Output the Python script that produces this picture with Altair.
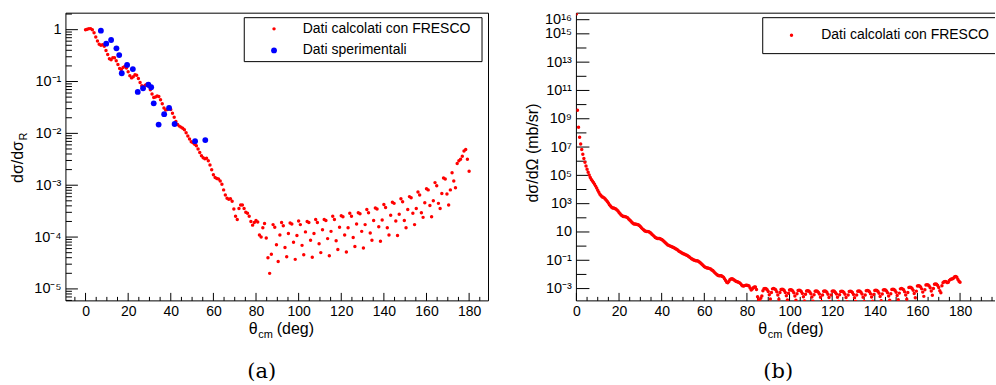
import altair as alt
import pandas as pd

# ---------------- data ----------------
# panel (a): ratio to Rutherford, FRESCO, 0.8 degree step, log10 values
theta_calc_a = [round(0.8 * k, 1) for k in range(0, 226)]
ratio_calc_a_log10 = [
    # 0.0 - 7.2
    0.00, 0.01, 0.02, 0.02, 0.00, -0.06, -0.14, -0.22, -0.28, -0.30,
    # 8.0 - 15.2
    -0.29, -0.32, -0.40, -0.48, -0.56, -0.58, -0.54, -0.54, -0.60, -0.67,
    # 16.0 - 23.2
    -0.75, -0.77, -0.73, -0.71, -0.74, -0.81, -0.89, -0.93, -0.91, -0.87,
    # 24.0 - 31.2
    -0.88, -0.94, -1.02, -1.08, -1.10, -1.07, -1.05, -1.09, -1.16, -1.24,
    # 32.0 - 39.2
    -1.31, -1.30, -1.28, -1.29, -1.35, -1.43, -1.51, -1.55, -1.54, -1.52,
    # 40.0 - 47.2
    -1.54, -1.61, -1.69, -1.77, -1.83, -1.86, -1.88, -1.90, -1.93, -1.99,
    # 48.0 - 55.2
    -2.05, -2.11, -2.16, -2.18, -2.21, -2.24, -2.30, -2.37, -2.43, -2.47,
    # 56.0 - 63.2
    -2.49, -2.48, -2.53, -2.61, -2.70, -2.80, -2.85, -2.87, -2.88, -2.92,
    # 64.0 - 71.2
    -2.98, -3.09, -3.19, -3.25, -3.27, -3.26, -3.31, -3.46, -3.60, -3.66,
    # 72.0 - 79.2
    -3.45, -3.38, -3.38, -3.45, -3.52, -3.54, -3.60, -3.70, -3.77, -3.72,
    # 80.0 - 87.2
    -3.68, -3.71, -3.96, -4.00, -3.82, -3.74, -4.02, -4.40, -4.70, -4.33,
    # 88.0 - 171.2 (five points per ~4 degree oscillation)
    -3.76, -3.81, -4.15, -4.47, -3.96,
    -3.72, -3.78, -4.20, -4.38, -3.93,
    -3.73, -3.75, -4.10, -4.43, -3.97,
    -3.69, -3.76, -4.16, -4.34, -3.90,
    -3.70, -3.72, -4.06, -4.39, -3.93,
    -3.66, -3.72, -4.13, -4.30, -3.86,
    -3.66, -3.68, -4.03, -4.36, -3.89,
    -3.60, -3.66, -4.07, -4.24, -3.81,
    -3.59, -3.61, -3.96, -4.29, -3.82,
    -3.54, -3.60, -4.01, -4.18, -3.75,
    -3.53, -3.55, -3.89, -4.21, -3.76,
    -3.47, -3.53, -3.92, -4.06, -3.68,
    -3.44, -3.46, -3.80, -4.08, -3.67,
    -3.37, -3.43, -3.82, -3.96, -3.58,
    -3.33, -3.35, -3.69, -3.97, -3.56,
    -3.26, -3.32, -3.68, -3.82, -3.47,
    -3.22, -3.24, -3.54, -3.76, -3.45,
    -3.13, -3.19, -3.53, -3.62, -3.34,
    -3.07, -3.09, -3.39, -3.61, -3.30,
    -2.95, -3.01, -3.35, -3.45, -3.16,
    -2.86, -2.88, -3.17, -3.38, -3.09,
    # 172.0 - 180.0
    -2.76, -2.92, -3.05, -2.58, -2.53, -2.50, -2.44, -2.34, -2.31, -2.50, -2.73,
]

# panel (a): experimental points
theta_exp = [7.2, 9.7, 12.0, 14.5, 15.8, 17.0, 19.5, 22.2, 24.5, 27.0,
             29.5, 30.8, 32.0, 34.3, 36.9, 39.2, 41.8, 51.4, 56.2]
ratio_exp_log10 = [-0.02, -0.27, -0.20, -0.36, -0.49, -0.84, -0.68, -0.76, -1.20, -1.13,
                   -1.06, -1.11, -1.42, -1.83, -1.63, -1.51, -1.82, -2.15, -2.13]

# panel (b): d sigma / d Omega (mb/sr), FRESCO, 0.5 degree step, log10 values
theta_calc_b = [i / 2 for i in range(0, 361)]
sigma_calc_b_log10 = [
    16.41, 9.60, 8.40, 7.70, 7.21, 6.82, 6.49, 6.19, 5.92, 5.66,
    5.43, 5.22, 5.02, 4.85, 4.71, 4.60, 4.49, 4.37, 4.24, 4.10,
    3.95, 3.80, 3.67, 3.58, 3.49, 3.45, 3.41, 3.33, 3.25, 3.15,
    3.04, 2.93, 2.83, 2.75, 2.70, 2.69, 2.66, 2.62, 2.56, 2.48,
    2.38, 2.29, 2.20, 2.14, 2.09, 2.09, 2.08, 2.05, 2.00, 1.92,
    1.85, 1.77, 1.68, 1.62, 1.57, 1.56, 1.55, 1.53, 1.51, 1.45,
    1.38, 1.30, 1.22, 1.15, 1.08, 1.05, 1.04, 1.03, 1.02, 0.96,
    0.91, 0.83, 0.76, 0.69, 0.61, 0.57, 0.54, 0.54, 0.54, 0.51,
    0.47, 0.41, 0.34, 0.27, 0.20, 0.13, 0.07, 0.04, 0.00, -0.03,
    -0.06, -0.09, -0.13, -0.18, -0.22, -0.28, -0.34, -0.39, -0.44, -0.49,
    -0.52, -0.56, -0.59, -0.62, -0.66, -0.71, -0.77, -0.83, -0.89, -0.93,
    -0.98, -1.00, -1.03, -1.04, -1.05, -1.10, -1.15, -1.23, -1.30, -1.37,
    -1.45, -1.49, -1.53, -1.55, -1.57, -1.59, -1.62, -1.68, -1.73, -1.81,
    -1.89, -1.96, -2.03, -2.07, -2.09, -2.10, -2.10, -2.14, -2.19, -2.30,
    -2.43, -2.55, -2.59, -2.50, -2.38, -2.33, -2.31, -2.34, -2.39, -2.45,
    -2.50, -2.52, -2.55, -2.59, -2.65, -2.74, -2.81, -2.82, -2.79, -2.77,
    -2.76, -2.78, -2.82, -2.96, -3.10, -3.03, -2.94, -2.89, -2.89, -3.06,
    -3.57, -3.78, -3.89, -3.69, -3.53, -3.16,
    -3.01, -2.99, -3.01, -3.08, -3.21, -3.44, -3.74, -3.27,
    -3.02, -3.00, -3.02, -3.09, -3.22, -3.45, -3.75, -3.28,
    -3.07, -3.05, -3.07, -3.14, -3.27, -3.50, -3.80, -3.33,
    -3.10, -3.08, -3.10, -3.17, -3.30, -3.53, -3.83, -3.36,
    -3.14, -3.12, -3.14, -3.21, -3.34, -3.57, -3.87, -3.40,
    -3.17, -3.15, -3.17, -3.24, -3.37, -3.60, -3.90, -3.43,
    -3.19, -3.17, -3.19, -3.26, -3.39, -3.62, -3.92, -3.45,
    -3.19, -3.17, -3.19, -3.26, -3.40, -3.63, -3.93, -3.45,
    -3.19, -3.17, -3.19, -3.27, -3.39, -3.62, -3.91, -3.44,
    -3.20, -3.18, -3.20, -3.27, -3.40, -3.63, -3.93, -3.46,
    -3.20, -3.18, -3.20, -3.27, -3.41, -3.64, -3.92, -3.46,
    -3.19, -3.17, -3.19, -3.26, -3.39, -3.62, -3.92, -3.45,
    -3.16, -3.14, -3.16, -3.23, -3.36, -3.59, -3.89, -3.42,
    -3.13, -3.11, -3.13, -3.20, -3.33, -3.56, -3.86, -3.39,
    -3.10, -3.08, -3.10, -3.17, -3.30, -3.53, -3.83, -3.36,
    -3.06, -3.04, -3.06, -3.13, -3.26, -3.49, -3.79, -3.32,
    -3.02, -3.00, -3.02, -3.09, -3.22, -3.45, -3.75, -3.28,
    -2.92, -2.90, -2.92, -2.99, -3.12, -3.35, -3.65, -3.18,
    -2.82, -2.80, -2.82, -2.89, -3.02, -3.25, -3.55, -3.08,
    -2.74, -2.72, -2.74, -2.81, -2.94, -3.17, -3.47, -3.00,
    -2.70, -2.68, -2.70, -2.78, -2.92, -3.15, -3.30, -2.80,
    -2.58, -2.52, -2.50, -2.52, -2.58, -2.55, -2.42, -2.35,
    -2.32, -2.30, -2.25, -2.17, -2.14, -2.20, -2.35, -2.48, -2.55,
]

legend_a = ["Dati calcolati con FRESCO", "Dati sperimentali"]
legend_b = ["Dati calcolati con FRESCO"]

# axis ticks / labels
x_major_a = [0, 20, 40, 60, 80, 100, 120, 140, 160, 180]
x_minor_a = [t for t in range(-5, 190, 5) if t % 20 != 0]
x_major_b = [0, 20, 40, 60, 80, 100, 120, 140, 160, 180]
x_minor_b = [t for t in range(5, 200, 5) if t % 20 != 0]

y_exp_a = [-5, -4, -3, -2, -1, 0]
y_labels_a = {0: "1", -1: "10⁻¹", -2: "10⁻²", -3: "10⁻³", -4: "10⁻⁴", -5: "10⁻⁵"}
y_minor_a = [m * 10.0 ** e for e in range(-6, 1) for m in range(2, 10)]

y_exp_b = list(range(-3, 17))
y_labels_b = {16: "10¹⁶", 15: "10¹⁵", 13: "10¹³", 11: "10¹¹", 9: "10⁹", 7: "10⁷",
              5: "10⁵", 3: "10³", 1: "10", -1: "10⁻¹", -3: "10⁻³"}

# ---------------- styling ----------------
FONT = "Liberation Sans"
SERIF = "DejaVu Serif"
H = 288
W_A = 423
W_B = 419
DOT = 12

xs_a = alt.Scale(domain=[-9.2, 189.1], nice=False, zero=False)
ys_a = alt.Scale(type="log", domain=[10 ** -5.231, 10 ** 0.318], nice=False)
xs_b = alt.Scale(domain=[0, 196.4], nice=False, zero=False)
ys_b = alt.Scale(type="log", domain=[10 ** -3.87, 10 ** 16.46], nice=False)

ONE = pd.DataFrame({"k": [0]})


def label_expr(mapping):
    parts = [f"(round(log(datum.value)/LN10) == {e}) ? '{s}'" for e, s in mapping.items()]
    return " : ".join(parts) + " : ''"


def txt(text, x, y, size=16, align="left", baseline="alphabetic", angle=0, font=FONT):
    return alt.Chart(ONE).mark_text(
        text=text, align=align, baseline=baseline, angle=angle,
        font=font, fontSize=size, color="black"
    ).encode(x=alt.value(x), y=alt.value(y))


def xaxis(values):
    return alt.Axis(values=values, format="d", ticks=False, domain=False, grid=False,
                    title=None, labelFont=FONT, labelFontSize=14, labelColor="black",
                    labelPadding=4, labelFlush=False, labelOverlap=False)


def yaxis(values, mapping):
    return alt.Axis(values=values, labelExpr=label_expr(mapping), ticks=False,
                    domain=False, grid=False, title=None, labelFont=FONT,
                    labelFontSize=14.5, labelColor="black", labelPadding=5,
                    labelFlush=False, labelOverlap=False)


# ---------------- panel (a) ----------------
df_a = pd.DataFrame({"theta": theta_calc_a,
                     "ratio": [10 ** v for v in ratio_calc_a_log10]})
df_exp = pd.DataFrame({"theta": theta_exp,
                       "ratio": [10 ** v for v in ratio_exp_log10]})

anchor = alt.Chart(ONE).mark_rule(strokeOpacity=0).encode(
    x=alt.value(-65), x2=alt.value(-65), y=alt.value(-12), y2=alt.value(-12))

frame_a = alt.Chart(ONE).mark_rect(fillOpacity=0, stroke="black", strokeWidth=1).encode(
    x=alt.value(0), x2=alt.value(W_A), y=alt.value(0), y2=alt.value(H))

xt_major_a = alt.Chart(pd.DataFrame({"t": x_major_a})).mark_rule(color="black").encode(
    x=alt.X("t:Q", scale=xs_a, axis=None), y=alt.value(H), y2=alt.value(H - 8))
xt_minor_a = alt.Chart(pd.DataFrame({"t": x_minor_a})).mark_rule(color="black").encode(
    x=alt.X("t:Q", scale=xs_a, axis=None), y=alt.value(H), y2=alt.value(H - 4))
yt_major_a = alt.Chart(pd.DataFrame({"t": [10.0 ** e for e in y_exp_a]})).mark_rule(color="black").encode(
    y=alt.Y("t:Q", scale=ys_a, axis=None), x=alt.value(0), x2=alt.value(12))
yt_minor_a = alt.Chart(pd.DataFrame({"t": y_minor_a})).transform_filter(
    "datum.t > 5.9e-6 && datum.t < 2.05").mark_rule(color="black").encode(
    y=alt.Y("t:Q", scale=ys_a, axis=None), x=alt.value(0), x2=alt.value(6))

pts_a = alt.Chart(df_a).mark_circle(size=DOT, color="#ff0000", opacity=1).encode(
    x=alt.X("theta:Q", scale=xs_a, axis=xaxis(x_major_a)),
    y=alt.Y("ratio:Q", scale=ys_a, axis=yaxis([10.0 ** e for e in y_exp_a], y_labels_a)))
pts_exp = alt.Chart(df_exp).mark_circle(size=34, color="#0000ff", opacity=1).encode(
    x=alt.X("theta:Q", scale=xs_a, axis=None),
    y=alt.Y("ratio:Q", scale=ys_a, axis=None))

leg_box_a = alt.Chart(ONE).mark_rect(fill="white", stroke="black", strokeWidth=1).encode(
    x=alt.value(178.5), x2=alt.value(416.5), y=alt.value(4.5), y2=alt.value(48.5))
leg_m1_a = alt.Chart(ONE).mark_circle(size=DOT, color="#ff0000", opacity=1).encode(
    x=alt.value(208.3), y=alt.value(15.7))
leg_m2_a = alt.Chart(ONE).mark_circle(size=34, color="#0000ff", opacity=1).encode(
    x=alt.value(208.3), y=alt.value(37.3))
leg_t1_a = txt(legend_a[0], 237, 15.7, size=14, baseline="middle")
leg_t2_a = txt(legend_a[1], 237, 37.3, size=14, baseline="middle")

xt1_a = txt("θ", 192, 321, size=16, align="right")
xt2_a = txt("cm", 192.5, 325, size=11)
xt3_a = txt("(deg)", 211, 321, size=16)
yt1_a = txt("dσ/dσ", -43, 128, size=16, align="right", angle=270)
yt2_a = txt("R", -39, 127.5, size=11, align="left", angle=270)
cap_a = txt("(a)", 196, 365, size=21, align="center", font=SERIF)

panel_a = alt.layer(
    anchor, frame_a, xt_major_a, xt_minor_a, yt_major_a, yt_minor_a,
    pts_a, pts_exp, leg_box_a, leg_m1_a, leg_m2_a, leg_t1_a, leg_t2_a,
    xt1_a, xt2_a, xt3_a, yt1_a, yt2_a, cap_a,
).resolve_axis(x="independent", y="independent").properties(width=W_A, height=H)

# ---------------- panel (b) ----------------
df_b = pd.DataFrame({"theta": theta_calc_b,
                     "sigma": [10 ** v for v in sigma_calc_b_log10]})

frame_b = alt.layer(
    alt.Chart(ONE).mark_rule(color="black").encode(x=alt.value(0), y=alt.value(0), y2=alt.value(H)),
    alt.Chart(ONE).mark_rule(color="black").encode(x=alt.value(0), x2=alt.value(W_B), y=alt.value(0)),
    alt.Chart(ONE).mark_rule(color="black").encode(x=alt.value(0), x2=alt.value(W_B), y=alt.value(H)),
)

xt_major_b = alt.Chart(pd.DataFrame({"t": x_major_b})).mark_rule(color="black").encode(
    x=alt.X("t:Q", scale=xs_b, axis=None), y=alt.value(H), y2=alt.value(H - 8))
xt_minor_b = alt.Chart(pd.DataFrame({"t": x_minor_b})).mark_rule(color="black").encode(
    x=alt.X("t:Q", scale=xs_b, axis=None), y=alt.value(H), y2=alt.value(H - 4))
yt_long_b = alt.Chart(pd.DataFrame({"t": [10.0 ** e for e in y_exp_b if e in y_labels_b]})).mark_rule(
    color="black").encode(y=alt.Y("t:Q", scale=ys_b, axis=None), x=alt.value(0), x2=alt.value(13))
yt_short_b = alt.Chart(pd.DataFrame({"t": [10.0 ** e for e in y_exp_b if e not in y_labels_b]})).mark_rule(
    color="black").encode(y=alt.Y("t:Q", scale=ys_b, axis=None), x=alt.value(0), x2=alt.value(10))

pts_b = alt.Chart(df_b).mark_circle(size=DOT, color="#ff0000", opacity=1, clip=True).encode(
    x=alt.X("theta:Q", scale=xs_b, axis=xaxis(x_major_b)),
    y=alt.Y("sigma:Q", scale=ys_b,
            axis=yaxis([10.0 ** e for e in y_labels_b], y_labels_b)))

leg_box_b = alt.Chart(ONE).mark_rect(fill="white", stroke="black", strokeWidth=1, clip=True).encode(
    x=alt.value(186.5), x2=alt.value(440), y=alt.value(4.5), y2=alt.value(40.5))
leg_m1_b = alt.Chart(ONE).mark_circle(size=DOT, color="#ff0000", opacity=1).encode(
    x=alt.value(215.3), y=alt.value(22))
leg_t1_b = txt(legend_b[0], 245, 22, size=14, baseline="middle")

xt1_b = txt("θ", 191, 321, size=16, align="right")
xt2_b = txt("cm", 191.5, 325, size=11)
xt3_b = txt("(deg)", 210, 321, size=16)
yt_b = txt("dσ/dΩ (mb/sr)", -38, 140, size=16, align="center", angle=270)
cap_b = txt("(b)", 202, 365, size=21, align="center", font=SERIF)

panel_b = alt.layer(
    frame_b, xt_major_b, xt_minor_b, yt_long_b, yt_short_b, pts_b,
    leg_box_b, leg_m1_b, leg_t1_b, xt1_b, xt2_b, xt3_b, yt_b, cap_b,
).resolve_axis(x="independent", y="independent").properties(width=W_B, height=H)

chart = alt.hconcat(panel_a, panel_b, spacing=88, bounds="flush").properties(
    padding=0, background="white"
).configure_view(stroke="transparent")

chart.save("out.html", embed_options={"renderer": "svg", "actions": False})
